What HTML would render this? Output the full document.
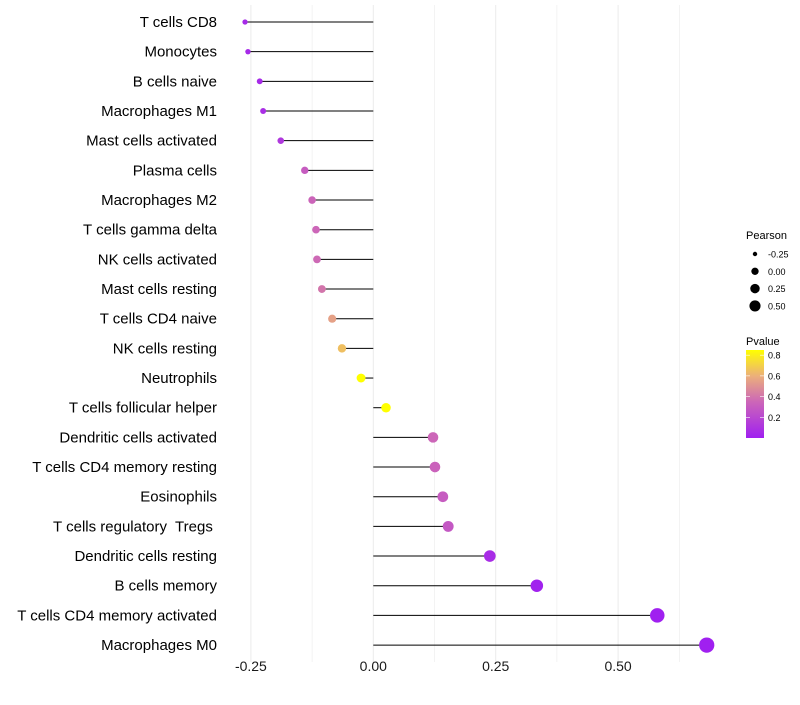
<!DOCTYPE html>
<html><head><meta charset="utf-8"><style>
body{margin:0;background:#fff;font-family:"Liberation Sans",sans-serif}
text{white-space:pre}
</style></head><body>
<svg id="c" width="800" height="700" xmlns="http://www.w3.org/2000/svg" font-family="Liberation Sans, sans-serif">
<defs><linearGradient id="pg" x1="0" y1="1" x2="0" y2="0">
<stop offset="0" stop-color="#A020F0"/><stop offset="0.41" stop-color="#CC66B8"/><stop offset="0.7" stop-color="#EBAE7C"/><stop offset="1" stop-color="#FFFF00"/></linearGradient></defs>
<g id="grid"></g><g id="marks"></g><g id="labels"></g><g id="xticks"></g>
<g id="legend">
<text x="746" y="239" font-size="11" fill="#000">Pearson</text>
<g id="sizeleg"></g>
<text x="746" y="345" font-size="11" fill="#000">Pvalue</text>
<rect x="746" y="350" width="18" height="88" fill="url(#pg)"/>
<g id="colleg"></g>
</g>
</svg>
<script>
const categories=["T cells CD8","Monocytes","B cells naive","Macrophages M1","Mast cells activated","Plasma cells","Macrophages M2","T cells gamma delta","NK cells activated","Mast cells resting","T cells CD4 naive","NK cells resting","Neutrophils","T cells follicular helper","Dendritic cells activated","T cells CD4 memory resting","Eosinophils","T cells regulatory  Tregs ","Dendritic cells resting","B cells memory","T cells CD4 memory activated","Macrophages M0"];
const pearson=[-0.262,-0.256,-0.232,-0.225,-0.189,-0.140,-0.125,-0.117,-0.115,-0.105,-0.084,-0.064,-0.025,0.026,0.122,0.126,0.142,0.153,0.238,0.334,0.580,0.681];
const pvalue=[0.05,0.05,0.05,0.07,0.12,0.3,0.34,0.35,0.36,0.4,0.55,0.65,0.85,0.85,0.35,0.33,0.3,0.28,0.06,0.01,0.0,0.0];
const xTicks=[-0.25,0,0.25,0.5];
const xTickLabels=["-0.25","0.00","0.25","0.50"];
const sizeLegVals=[-0.25,0,0.25,0.5];
const sizeLegLabels=["-0.25","0.00","0.25","0.50"];
const colLegVals=[0.2,0.4,0.6,0.8];
const NS="http://www.w3.org/2000/svg";
const X=v=>373.3+v*489.6;
const Y=i=>22+i*29.67;
const pmax=0.85;
const R=v=>{const t=(v+0.28)/(0.96);return Math.sqrt(6+t*52);};
function col(p){const t=Math.max(0,Math.min(1,p/pmax));
 const st=[[0,[160,32,240]],[0.41,[204,102,184]],[0.7,[235,174,124]],[1,[255,255,0]]];
 for(let i=1;i<st.length;i++){if(t<=st[i][0]){const a=st[i-1],b=st[i],f=(t-a[0])/(b[0]-a[0]);
 return "rgb("+a[1].map((c,k)=>Math.round(c+(b[1][k]-c)*f)).join(",")+")";}}return "rgb(255,255,0)";}
function mk(tag,attrs,parent){const e=document.createElementNS(NS,tag);for(const k in attrs)e.setAttribute(k,attrs[k]);parent.appendChild(e);return e;}
const grid=document.getElementById('grid');
for(let k=-2;k<=5;k++){const v=k*0.125;const l=mk('line',{x1:X(v),x2:X(v),y1:5,y2:662,stroke:'#ebebeb','stroke-width':k%2===0?1:0.6},grid);

}
const marks=document.getElementById('marks'),labels=document.getElementById('labels');
categories.forEach((c,i)=>{
 const s=mk('line',{x1:X(0),x2:X(pearson[i]),y1:Y(i),y2:Y(i),stroke:'#000','stroke-width':1},marks);
 
 
 const d=mk('circle',{cx:X(pearson[i]),cy:Y(i),r:R(pearson[i]),fill:col(pvalue[i])},marks);
 
 
 const t=mk('text',{x:217,y:Y(i)+5,'text-anchor':'end','font-size':15,fill:'#000'},labels);
 t.textContent=c;
 
 
});
const xt=document.getElementById('xticks');
xTicks.forEach((v,i)=>{const t=mk('text',{x:X(v),y:671,'text-anchor':'middle','font-size':14,fill:'#1a1a1a'},xt);
 t.textContent=xTickLabels[i];
 
 });
const sl=document.getElementById('sizeleg');
sizeLegVals.forEach((v,i)=>{const y=254+i*17.3;
 const c=mk('circle',{cx:755,cy:y,r:R(v)*0.8,fill:'#000'},sl);
 
 
 const t=mk('text',{x:768,y:y+3.5,'font-size':9,fill:'#000'},sl);t.textContent=sizeLegLabels[i];
 
 });
const cl=document.getElementById('colleg');
colLegVals.forEach(v=>{const y=438-v/pmax*88;
 mk('line',{x1:746,x2:750,y1:y,y2:y,stroke:'#fff','stroke-width':0.6},cl);
 mk('line',{x1:760,x2:764,y1:y,y2:y,stroke:'#fff','stroke-width':0.6},cl);
 const t=mk('text',{x:768,y:y+3.5,'font-size':9,fill:'#000'},cl);t.textContent=v.toFixed(1);
 
 });
</script>
</body></html>
